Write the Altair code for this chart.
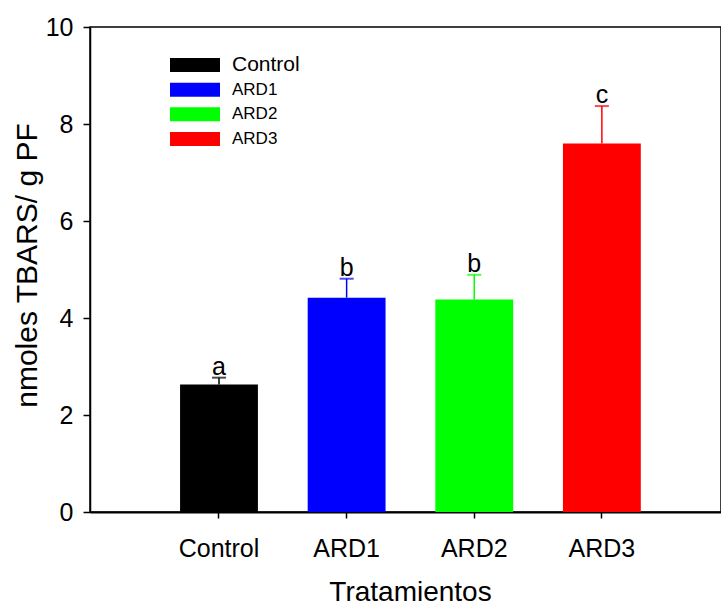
import altair as alt
import pandas as pd

tratamientos = ["Control", "ARD1", "ARD2", "ARD3"]
medias = [2.63, 4.42, 4.38, 7.60]
errores = [0.14, 0.39, 0.51, 0.77]
letras = ["a", "b", "b", "c"]
colores = ["#000000", "#0000FF", "#00FF00", "#FF0000"]
y_ticks = [0, 2, 4, 6, 8, 10]

df = pd.DataFrame({
    "trat": tratamientos,
    "media": medias,
    "err": errores,
    "letra": letras,
})
df["sup"] = df["media"] + df["err"]

FONT = "Liberation Sans"

xenc = alt.X(
    "trat:N",
    sort=tratamientos,
    scale=alt.Scale(paddingInner=0.39, paddingOuter=0.667, align=0.529),
    axis=alt.Axis(
        title="Tratamientos",
        titleFontSize=28, titleFont=FONT, titleFontWeight="normal", titleColor="black",
        titleX=320, titleY=88, titleBaseline="alphabetic", titleAnchor="middle",
        labelFontSize=25, labelFont=FONT, labelColor="black", labelAngle=0,
        labelPadding=18, tickSize=6, tickWidth=1.5, tickColor="black",
        domainColor="black", domainWidth=2, grid=False,
    ),
)
yscale = alt.Scale(domain=[0, 10], nice=False, zero=True)
color = alt.Color("trat:N", scale=alt.Scale(domain=tratamientos, range=colores), legend=None)

bars = alt.Chart(df).mark_bar().encode(
    x=xenc,
    y=alt.Y(
        "media:Q",
        scale=yscale,
        axis=alt.Axis(
            title="nmoles TBARS/ g PF",
            titleFontSize=30, titleFont=FONT, titleFontWeight="normal", titleColor="black",
            titleAngle=-90, titleX=-54, titleY=238, titleBaseline="alphabetic",
            titleAlign="center",
            values=y_ticks, labelFontSize=25, labelFont=FONT, labelColor="black",
            labelPadding=10, tickSize=7, tickWidth=1.5, tickColor="black",
            domainColor="black", domainWidth=1.5, grid=False,
        ),
    ),
    color=color,
)

stems = alt.Chart(df).mark_rule(strokeWidth=1.5).encode(
    x=alt.X("trat:N", sort=tratamientos),
    y=alt.Y("media:Q", scale=yscale),
    y2="sup:Q",
    color=color,
)

caps = alt.Chart(df).mark_tick(size=14, thickness=2).encode(
    x=alt.X("trat:N", sort=tratamientos),
    y=alt.Y("sup:Q", scale=yscale),
    color=color,
)

letters = alt.Chart(df).mark_text(
    font=FONT, fontSize=25, baseline="alphabetic", dy=-3, color="black"
).encode(
    x=alt.X("trat:N", sort=tratamientos),
    y=alt.Y("sup:Q", scale=yscale),
    text="letra:N",
)

main = alt.layer(bars, stems, caps, letters)

leg_y = alt.Y(
    "trat:N",
    sort=tratamientos,
    scale=alt.Scale(type="band", domain=tratamientos, range=[31, 119],
                    paddingInner=0.43, paddingOuter=0),
    axis=None,
)

leg_swatch = alt.Chart(df).mark_rect().encode(
    x=alt.value(80),
    x2=alt.value(130),
    y=leg_y,
    color=color,
)

leg_text = alt.Chart(df).mark_text(
    font=FONT, align="left", baseline="middle", color="black"
).encode(
    x=alt.value(142),
    y=leg_y,
    text="trat:N",
    size=alt.condition(alt.datum.trat == "Control", alt.value(21), alt.value(17)),
)

legend = alt.layer(leg_swatch, leg_text)

chart = alt.layer(main, legend).resolve_scale(y="independent").properties(
    width=631,
    height=485,
    autosize=alt.AutoSizeParams(type="none"),
    padding={"left": 90, "top": 27, "right": 0, "bottom": 95},
    background="white",
).configure_view(
    stroke="black", strokeWidth=1.5
)

chart.save("out.html", embed_options={"renderer": "svg", "actions": False})
